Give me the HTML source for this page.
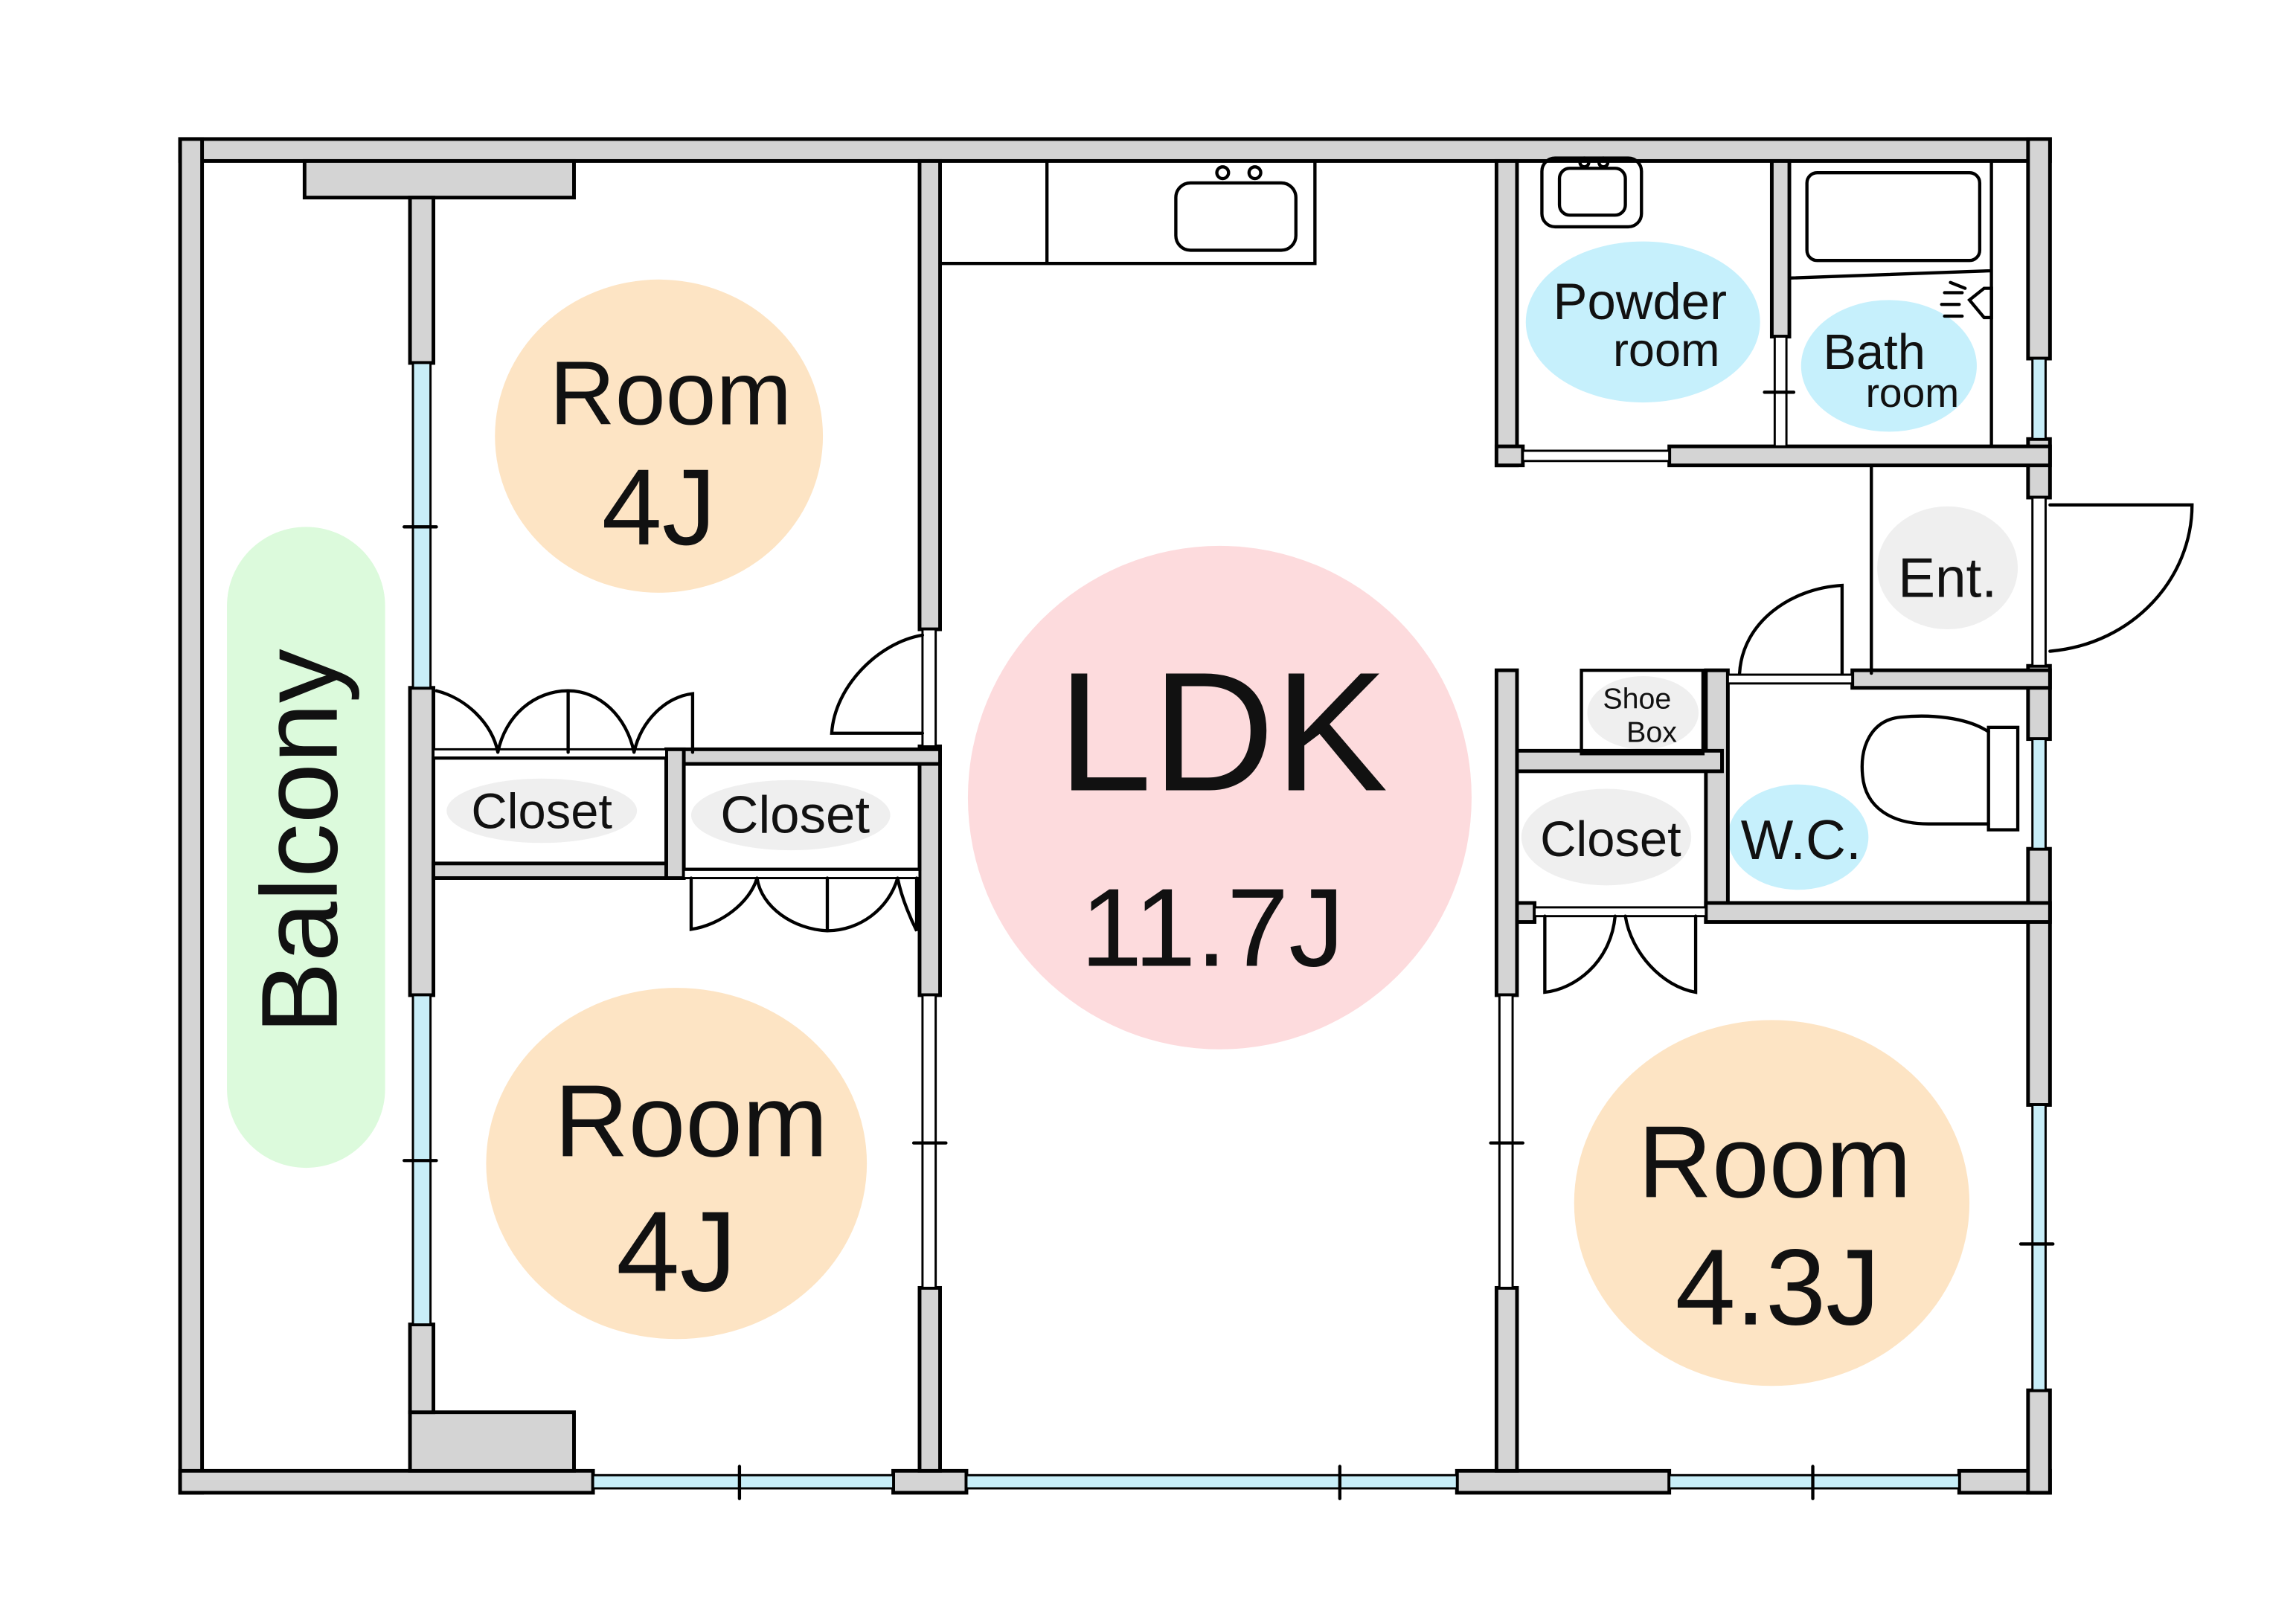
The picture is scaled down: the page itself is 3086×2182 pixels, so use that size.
<!DOCTYPE html>
<html><head><meta charset="utf-8"><style>
html,body{margin:0;padding:0;background:#fff;}
svg{display:block;}
text{font-family:"Liberation Sans",sans-serif;fill:#111;}
</style></head><body>
<svg width="3086" height="2182" viewBox="0 0 1568 1109" preserveAspectRatio="none" xmlns="http://www.w3.org/2000/svg">
<rect width="1568" height="1109" fill="#fff"/>
<!-- blobs -->
<ellipse cx="450" cy="298" rx="112" ry="107" fill="#fde4c4"/>
<ellipse cx="462" cy="795" rx="130" ry="120" fill="#fde4c4"/>
<ellipse cx="1210" cy="822" rx="135" ry="125" fill="#fde4c4"/>
<ellipse cx="833" cy="545" rx="172" ry="172" fill="#fddbdd"/>
<rect x="155" y="360" width="108" height="438" rx="54" fill="#dcfadc"/>
<ellipse cx="1122" cy="220" rx="80" ry="55" fill="#c6f0fc"/>
<ellipse cx="1290" cy="250" rx="60" ry="45" fill="#c6f0fc"/>
<ellipse cx="1228" cy="572" rx="48" ry="36" fill="#c6f0fc"/>
<ellipse cx="1330" cy="388" rx="48" ry="42" fill="#efefef"/>
<ellipse cx="1097" cy="572" rx="58" ry="33" fill="#efefef"/>
<ellipse cx="1122" cy="487" rx="38" ry="25" fill="#efefef"/>
<ellipse cx="370" cy="554" rx="65" ry="22" fill="#efefef"/>
<ellipse cx="540" cy="557" rx="68" ry="24" fill="#efefef"/>

<g fill="#d4d4d4" stroke="#000" stroke-width="2.5">
<rect x="123" y="95" width="1277" height="15"/>
<rect x="123" y="95" width="15" height="925"/>
<rect x="123" y="1005" width="282" height="15"/>
<rect x="610" y="1005" width="50" height="15"/>
<rect x="995" y="1005" width="145" height="15"/>
<rect x="1338" y="1005" width="62" height="15"/>
<rect x="1385" y="95" width="15" height="150"/>
<rect x="1385" y="300" width="15" height="40"/>
<rect x="1385" y="455" width="15" height="50"/>
<rect x="1385" y="580" width="15" height="175"/>
<rect x="1385" y="950" width="15" height="70"/>
<rect x="208" y="110" width="184" height="25"/>
<rect x="280" y="965" width="112" height="40"/>
<rect x="280" y="135" width="16" height="113"/>
<rect x="280" y="470" width="16" height="210"/>
<rect x="280" y="905" width="16" height="60"/>
<rect x="628" y="110" width="14" height="320"/>
<rect x="628" y="510" width="14" height="170"/>
<rect x="628" y="880" width="14" height="125"/>
<rect x="296" y="590" width="170" height="10"/>
<rect x="455" y="512" width="187" height="10"/>
<rect x="455" y="512" width="12" height="88"/>
<rect x="1022" y="110" width="14" height="208"/>
<rect x="1022" y="305" width="18" height="13"/>
<rect x="1140" y="305" width="260" height="13"/>
<rect x="1210" y="110" width="12" height="120"/>
<rect x="1265" y="458" width="135" height="12"/>
<rect x="1165" y="458" width="15" height="172"/>
<rect x="1165" y="617" width="235" height="13"/>
<rect x="1022" y="458" width="14" height="222"/>
<rect x="1022" y="880" width="14" height="125"/>
<rect x="1036" y="513" width="140" height="14"/>
<rect x="1036" y="617" width="12" height="13"/>
</g>

<g fill="#c8eef8" stroke="#000" stroke-width="1.5">
<rect x="282" y="248" width="12" height="222"/>
<rect x="282" y="680" width="12" height="225"/>
<rect x="405" y="1008" width="205" height="9"/>
<rect x="660" y="1008" width="335" height="9"/>
<rect x="1140" y="1008" width="198" height="9"/>
<rect x="1388" y="245" width="9" height="55"/>
<rect x="1388" y="505" width="9" height="75"/>
<rect x="1388" y="755" width="9" height="195"/>
<rect x="630" y="680" width="9" height="200" fill="#fff"/>
<rect x="1024" y="680" width="9" height="200" fill="#fff"/>
<rect x="1040" y="308" width="100" height="7" fill="#fff"/>
<rect x="1180" y="461" width="85" height="6" fill="#fff"/>
<rect x="1048" y="620" width="117" height="6" fill="#fff"/>
<rect x="630" y="430" width="9" height="80" fill="#fff"/>
<rect x="1388" y="340" width="9" height="115" fill="#fff"/>
<rect x="1212" y="230" width="8" height="75" fill="#fff"/>
<rect x="296" y="512" width="159" height="6" fill="#fff"/>
<rect x="467" y="594" width="161" height="6" fill="#fff"/>
</g>

<g fill="none" stroke="#000" stroke-width="2.2" stroke-linecap="round">
<path d="M276 360h22M276 793h22M624 781h22M1018 781h22M1380 850h22M505 1002v22M915 1002v22M1238 1002v22M1205 268h20"/>
<rect x="296" y="518" width="159" height="72"/>
<rect x="467" y="522" width="161" height="72"/>
<path d="M298 472c20 5 38 22 42 42M340 514c5-25 25-42 48-42c22 0 40 18 45 42M388 472v42M433 514c5-22 22-38 40-40v40"/>
<path d="M472 600v35c20-3 40-18 45-35M517 600c3 20 25 35 48 36c22 0 42-15 48-36M565 600v36M613 600c3 15 10 30 13 36v-36"/>
<path d="M630 434c-30 5-60 35-62 67h62"/>
<path d="M642 180h256v-70M715 110v70"/>
<rect x="803" y="125" width="82" height="46" rx="10"/>
<circle cx="835" cy="118" r="4"/><circle cx="857" cy="118" r="4"/>
<rect x="1053" y="108" width="68" height="47" rx="9"/>
<rect x="1065" y="115" width="45" height="32" rx="7"/>
<circle cx="1082" cy="111" r="3"/><circle cx="1095" cy="111" r="3"/>
<path d="M1360 110v195M1222 190l138-5"/>
<rect x="1234" y="118" width="118" height="60" rx="7"/>
<path d="M1345 205l10-8h5v20h-5zM1328 200h12M1326 208h12M1328 216h12M1332 193l10 4"/>
<path d="M1278 318v142"/>
<path d="M1400 345h97c0 50-40 95-97 100"/>
<path d="M1188 460c2-35 35-58 70-60v60"/>
<rect x="1080" y="458" width="83" height="57"/>
<path d="M1358 500c-15-10-40-12-60-10c-20 2-28 20-26 40c2 22 20 33 45 33h41"/>
<rect x="1358" y="497" width="20" height="70"/>
<path d="M1055 626v52c20-2 45-20 48-52M1110 626c4 25 25 48 48 52v-52"/>
</g>

<text x="458" y="290" font-size="62" text-anchor="middle">Room</text>
<text x="450" y="372" font-size="74" text-anchor="middle">4J</text>
<text x="472" y="790" font-size="70" text-anchor="middle">Room</text>
<text x="462" y="882" font-size="78" text-anchor="middle">4J</text>
<text x="1212" y="818" font-size="70" text-anchor="middle">Room</text>
<text x="1214" y="905" font-size="74" text-anchor="middle">4.3J</text>
<text x="835" y="540" font-size="116" text-anchor="middle">LDK</text>
<text x="828" y="660" font-size="76" text-anchor="middle">11.7J</text>
<text transform="translate(230,575) rotate(-90)" font-size="74" text-anchor="middle">Balcony</text>
<text x="1120" y="218" font-size="35" text-anchor="middle">Powder</text>
<text x="1138" y="250" font-size="32" text-anchor="middle">room</text>
<text x="1280" y="252" font-size="34" text-anchor="middle">Bath</text>
<text x="1306" y="278" font-size="28" text-anchor="middle">room</text>
<text x="1330" y="408" font-size="38" text-anchor="middle">Ent.</text>
<text x="1230" y="587" font-size="38" text-anchor="middle">W.C.</text>
<text x="1100" y="585" font-size="34" text-anchor="middle">Closet</text>
<text x="370" y="566" font-size="34" text-anchor="middle">Closet</text>
<text x="543" y="569" font-size="36" text-anchor="middle">Closet</text>
<text x="1118" y="484" font-size="20" text-anchor="middle">Shoe</text>
<text x="1128" y="507" font-size="20" text-anchor="middle">Box</text>
</svg>
</body></html>
